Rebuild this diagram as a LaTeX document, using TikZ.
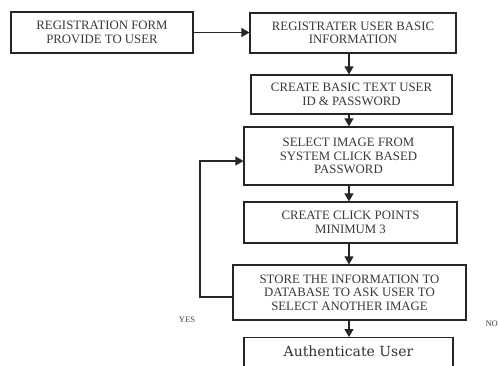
\documentclass[tikz,border=0pt]{standalone}
\usepackage{fontspec}
\setmainfont{Liberation Serif}
\newfontfamily\authfont{DejaVu Serif}
\usetikzlibrary{arrows.meta}
\begin{document}
\begin{tikzpicture}[x=1pt,y=-1pt,
  box/.style={draw=black!85, line width=1.1pt, align=center, inner sep=0pt,
    font=\fontsize{12.8}{13.5}\selectfont, text=black!78},
  arr/.style={line width=1.1pt, draw=black!85, -{Triangle[length=8pt,width=9pt]}},
  lbl/.style={font=\fontsize{8.5}{9}\selectfont, text=black!75, inner sep=0pt}]
\useasboundingbox (0,0) rectangle (499,365);
\clip (0,0) rectangle (499,365);
\node[box, minimum width=182pt, minimum height=41pt] (b1) at (102,32.5)
  {REGISTRATION FORM\\PROVIDE TO USER};
\node[box, minimum width=206pt, minimum height=40pt] (b2) at (353,33)
  {REGISTRATER USER BASIC\\INFORMATION};
\node[box, minimum width=201pt, minimum height=39pt] (b3) at (351.5,94.5)
  {CREATE BASIC TEXT USER\\ID \& PASSWORD};
\node[box, minimum width=209pt, minimum height=58pt] (b4) at (348.5,156)
  {SELECT IMAGE FROM\\SYSTEM CLICK BASED\\PASSWORD};
\node[box, minimum width=213pt, minimum height=41pt] (b5) at (350.5,222.5)
  {CREATE CLICK POINTS\\MINIMUM 3};
\node[box, minimum width=233pt, minimum height=55pt] (b6) at (349.5,292.5)
  {STORE THE INFORMATION TO\\DATABASE TO ASK USER TO\\SELECT ANOTHER IMAGE};
\node[box, minimum width=209pt, minimum height=41pt, anchor=north] (b7) at (348.5,337) {};
\node[font=\authfont\fontsize{14}{16}\selectfont, text=black!80, inner sep=0pt] (t7) at (348.5,351.5) {Authenticate User};
\coordinate (col) at (349,0);
\coordinate (lb) at (200,297);
\coordinate (lt) at (200,161);
\node[lbl] (yes) at (187,320) {YES};
\node[lbl, anchor=east] (no) at (498,324) {NO};
\draw[arr] (b1.east) -- (b1.east -| b2.west);
\draw[arr] (b2.south -| col) -- (b3.north -| col);
\draw[arr] (b3.south -| col) -- (b4.north -| col);
\draw[arr] (b4.south -| col) -- (b5.north -| col);
\draw[arr] (b5.south -| col) -- (b6.north -| col);
\draw[arr] (b6.south -| col) -- (b7.north -| col);
\draw[arr] (b6.west |- lb) -- (lb) -- (lt) -- (b4.west |- lt);
\end{tikzpicture}
\end{document}
